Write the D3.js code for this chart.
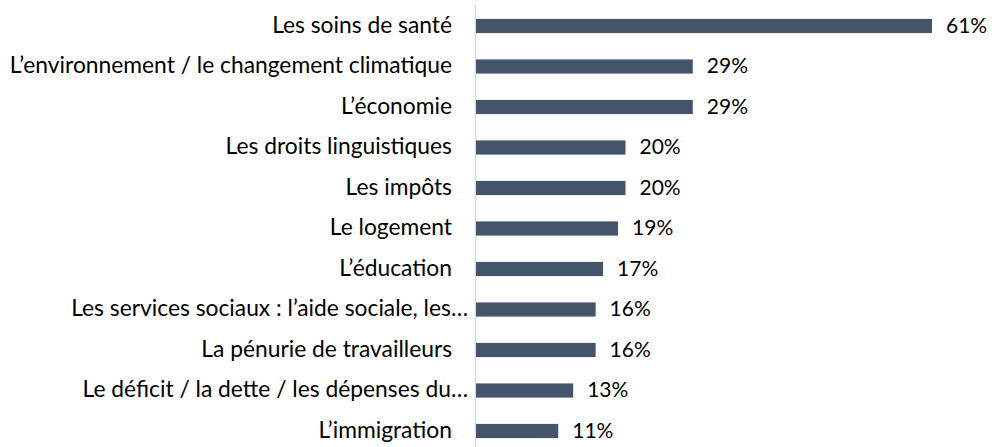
<!DOCTYPE html>
<html>
<head>
<meta charset="utf-8">
<script src="https://cdn.jsdelivr.net/npm/d3@7"></script>
<style>
  body { margin: 0; background: #fff; }
  text { font-family: Lato, "Liberation Sans", sans-serif; fill: #000; }
</style>
</head>
<body>
<svg id="chart" width="992" height="447"></svg>
<script>
const categories = [
  "Les soins de santé",
  "L’environnement / le changement climatique",
  "L’économie",
  "Les droits linguistiques",
  "Les impôts",
  "Le logement",
  "L’éducation",
  "Les services sociaux : l’aide sociale, les…",
  "La pénurie de travailleurs",
  "Le déficit / la dette / les dépenses du…",
  "L’immigration"
];
const values = [61, 29, 29, 20, 20, 19, 17, 16, 16, 13, 11];

const svg = d3.select("#chart");
const x0 = 476;

const x = d3.scaleLinear().domain([0, 61]).range([x0, 932]);
const y = d3.scaleBand().domain(categories).range([5.75, 451.25]).paddingInner(0.65).paddingOuter(0.325);

// axis line
svg.append("line")
    .attr("x1", 475.5).attr("x2", 475.5)
    .attr("y1", 5).attr("y2", 447)
    .attr("stroke", "#d9d9d9")
    .attr("stroke-width", 1.5);

svg.selectAll("rect.bar")
  .data(values)
  .enter().append("rect")
    .attr("class", "bar")
    .attr("x", x0)
    .attr("y", (d, i) => y(categories[i]))
    .attr("width", d => x(d) - x0)
    .attr("height", y.bandwidth())
    .attr("fill", "#44546a");

svg.selectAll("text.cat")
  .data(categories)
  .enter().append("text")
    .attr("class", "cat")
    .attr("x", d => d.endsWith("…") ? 468 : 452)
    .attr("y", d => y(d) + y.bandwidth() / 2)
    .attr("dy", "0.29em")
    .attr("text-anchor", "end")
    .style("font-size", "22.8px")
    .text(d => d);

svg.selectAll("text.val")
  .data(values)
  .enter().append("text")
    .attr("class", "val")
    .attr("x", d => x(d) + 14)
    .attr("y", (d, i) => y(categories[i]) + y.bandwidth() / 2)
    .attr("dy", "0.33em")
    .style("font-size", "21px")
    .text(d => d + "%");
</script>
</body>
</html>
